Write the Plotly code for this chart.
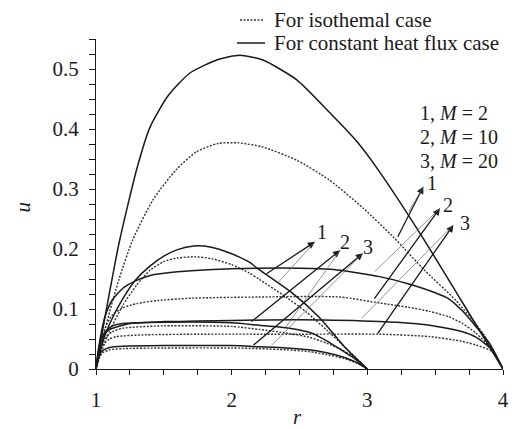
import plotly.graph_objects as go

# ---------------- data ----------------
# Outer radius 4 (r from 1 to 4)
r_a_m2_flux = [1, 1.05, 1.1, 1.17, 1.3, 1.4, 1.53, 1.69, 1.9, 2.06, 2.23, 2.48, 2.72, 2.92, 3.08, 3.4, 3.69, 4]
u_a_m2_flux = [0, 0.066, 0.128, 0.21, 0.333, 0.404, 0.455, 0.493, 0.516, 0.523, 0.515, 0.482, 0.428, 0.38, 0.332, 0.222, 0.115, 0]

r_a_m2_iso = [1, 1.05, 1.1, 1.17, 1.27, 1.42, 1.59, 1.74, 1.9, 2.05, 2.23, 2.48, 2.72, 2.97, 3.2, 3.42, 3.65, 3.85, 4]
u_a_m2_iso = [0, 0.05, 0.095, 0.15, 0.215, 0.282, 0.332, 0.362, 0.376, 0.377, 0.37, 0.348, 0.315, 0.268, 0.218, 0.165, 0.115, 0.06, 0]

r_a_m10_flux = [1, 1.03, 1.07, 1.12, 1.2, 1.29, 1.4, 1.6, 1.8, 2.0, 2.5, 2.75, 3.09, 3.3, 3.5, 3.6, 3.7, 3.8, 3.9, 4]
u_a_m10_flux = [0, 0.05, 0.09, 0.115, 0.135, 0.147, 0.156, 0.162, 0.165, 0.167, 0.168, 0.166, 0.154, 0.142, 0.127, 0.117, 0.097, 0.071, 0.043, 0]

r_a_m10_iso = [1, 1.03, 1.07, 1.12, 1.2, 1.3, 1.45, 1.7, 2.2, 2.8, 3.09, 3.3, 3.46, 3.6, 3.7, 3.8, 3.92, 4]
u_a_m10_iso = [0, 0.04, 0.07, 0.09, 0.102, 0.109, 0.114, 0.118, 0.12, 0.12, 0.11, 0.103, 0.096, 0.087, 0.076, 0.06, 0.032, 0]

r_a_m20_flux = [1, 1.02, 1.05, 1.1, 1.15, 1.25, 1.5, 1.75, 2.0, 2.5, 3.09, 3.46, 3.7, 3.8, 3.92, 4]
u_a_m20_flux = [0, 0.035, 0.055, 0.066, 0.07, 0.076, 0.079, 0.08, 0.081, 0.082, 0.079, 0.073, 0.062, 0.053, 0.032, 0]

r_a_m20_iso = [1, 1.02, 1.05, 1.1, 1.15, 1.37, 1.75, 2.5, 3.09, 3.46, 3.7, 3.8, 3.92, 4]
u_a_m20_iso = [0, 0.025, 0.04, 0.05, 0.054, 0.057, 0.058, 0.058, 0.058, 0.054, 0.046, 0.04, 0.029, 0]

# Outer radius 3 (r from 1 to 3)
r_b_m2_flux = [1, 1.05, 1.1, 1.2, 1.29, 1.4, 1.5, 1.6, 1.72, 1.85, 2.0, 2.13, 2.2, 2.45, 2.65, 2.84, 3]
u_b_m2_flux = [0, 0.045, 0.075, 0.118, 0.148, 0.172, 0.188, 0.199, 0.205, 0.203, 0.192, 0.178, 0.166, 0.126, 0.085, 0.035, 0]

r_b_m2_iso = [1, 1.05, 1.1, 1.2, 1.3, 1.4, 1.5, 1.6, 1.73, 1.85, 2.0, 2.13, 2.2, 2.4, 2.55, 2.7, 2.85, 3]
u_b_m2_iso = [0, 0.035, 0.063, 0.107, 0.14, 0.165, 0.179, 0.185, 0.187, 0.184, 0.174, 0.16, 0.15, 0.12, 0.095, 0.065, 0.033, 0]

r_b_m10_flux = [1, 1.03, 1.07, 1.12, 1.2, 1.5, 2.0, 2.2, 2.35, 2.5, 2.6, 2.7, 2.8, 2.89, 3]
u_b_m10_flux = [0, 0.04, 0.062, 0.072, 0.076, 0.078, 0.077, 0.073, 0.07, 0.065, 0.059, 0.047, 0.033, 0.02, 0]

r_b_m10_iso = [1, 1.03, 1.07, 1.12, 1.2, 1.5, 2.0, 2.2, 2.4, 2.57, 2.7, 2.82, 2.92, 3]
u_b_m10_iso = [0, 0.032, 0.052, 0.062, 0.068, 0.072, 0.071, 0.066, 0.06, 0.053, 0.043, 0.031, 0.017, 0]

r_b_m20_flux = [1, 1.02, 1.05, 1.1, 1.2, 1.5, 2.0, 2.2, 2.4, 2.57, 2.7, 2.82, 2.92, 3]
u_b_m20_flux = [0, 0.022, 0.031, 0.036, 0.038, 0.039, 0.039, 0.037, 0.035, 0.032, 0.027, 0.02, 0.011, 0]

r_b_m20_iso = [1, 1.02, 1.05, 1.1, 1.2, 1.5, 2.0, 2.2, 2.4, 2.57, 2.7, 2.82, 2.92, 3]
u_b_m20_iso = [0, 0.018, 0.027, 0.032, 0.034, 0.035, 0.035, 0.034, 0.032, 0.029, 0.024, 0.018, 0.01, 0]

x_tickvals = [1, 2, 3, 4]
y_tickvals = [0, 0.1, 0.2, 0.3, 0.4, 0.5]
y_ticktext = ["0", "0.1", "0.2", "0.3", "0.4", "0.5"]

legend_iso = "For isothemal case"
legend_flux = "For constant heat flux case"
m_labels = ["1, <i>M</i> = 2", "2, <i>M</i> = 10", "3, <i>M</i> = 20"]

# arrow pointers: (tip r, tip u, thick-from r, u, thin-from r, u, label r, u, label)
arrows_inner = [
    (2.614, 0.212, 2.246, 0.157, 2.334, 0.142, 2.664, 0.229, "1"),
    (2.80, 0.198, 2.135, 0.077, 2.393, 0.068, 2.835, 0.212, "2"),
    (2.968, 0.193, 2.15, 0.038, 2.283, 0.037, 3.007, 0.204, "3"),
]
arrows_outer = [
    (3.413, 0.304, 3.219, 0.218, 3.30, 0.26, 3.474, 0.31, "1"),
    (3.535, 0.268, 3.044, 0.115, 3.044, 0.16, 3.597, 0.273, "2"),
    (3.634, 0.240, 3.069, 0.057, 2.946, 0.082, 3.72, 0.243, "3"),
]

# ---------------- figure ----------------
INK = "#1a1a1a"
FONT = "Liberation Serif"
SOLID = dict(color=INK, width=1.5)
DOTTED = dict(color="#333333", width=1.4, dash="2px,1.5px")

fig = go.Figure()

flux_curves = [(r_a_m2_flux, u_a_m2_flux), (r_a_m10_flux, u_a_m10_flux), (r_a_m20_flux, u_a_m20_flux),
               (r_b_m2_flux, u_b_m2_flux), (r_b_m10_flux, u_b_m10_flux), (r_b_m20_flux, u_b_m20_flux)]
iso_curves = [(r_a_m2_iso, u_a_m2_iso), (r_a_m10_iso, u_a_m10_iso), (r_a_m20_iso, u_a_m20_iso),
              (r_b_m2_iso, u_b_m2_iso), (r_b_m10_iso, u_b_m10_iso), (r_b_m20_iso, u_b_m20_iso)]

for r, u in iso_curves:
    fig.add_trace(go.Scatter(x=r, y=u, mode="lines", line=dict(**DOTTED, shape="spline", smoothing=0.6),
                             name=legend_iso, showlegend=False, hoverinfo="skip"))
for r, u in flux_curves:
    fig.add_trace(go.Scatter(x=r, y=u, mode="lines", line=dict(**SOLID, shape="spline", smoothing=0.6),
                             name=legend_flux, showlegend=False, hoverinfo="skip"))

annotations = []
for group in (arrows_inner, arrows_outer):
    for tr, tu, ar, au, br, bu, lr, lu, lab in group:
        annotations.append(dict(x=tr, y=tu, ax=ar, ay=au, xref="x", yref="y", axref="x", ayref="y",
                                text="", showarrow=True, arrowhead=2, arrowsize=1.1, arrowwidth=1.3,
                                arrowcolor=INK))
        annotations.append(dict(x=tr, y=tu, ax=br, ay=bu, xref="x", yref="y", axref="x", ayref="y",
                                text="", showarrow=True, arrowhead=0, arrowwidth=0.7,
                                arrowcolor="#666666"))
        annotations.append(dict(x=lr, y=lu, xref="x", yref="y", text=lab, showarrow=False,
                                font=dict(family=FONT, size=20, color=INK)))

for k, lab in enumerate(m_labels):
    annotations.append(dict(x=0.791, y=0.7758 - 0.0727 * k, xref="paper", yref="paper", xanchor="left",
                            yanchor="middle", text=lab, showarrow=False,
                            font=dict(family=FONT, size=20, color=INK)))

# legend (drawn by hand to match the reference placement)
legend_rows = [(legend_iso, DOTTED, 0.3538, 0.4103, 1.0576), (legend_flux, SOLID, 0.3464, 0.4152, 0.9879)]
shapes = []
for text, style, x0, x1, yy in legend_rows:
    shapes.append(dict(type="line", xref="paper", yref="paper", x0=x0, x1=x1, y0=yy, y1=yy,
                       line=dict(color=style["color"], width=style["width"], dash=style.get("dash", "solid"))))
    annotations.append(dict(x=0.4324, y=yy, xref="paper", yref="paper", xanchor="left", yanchor="middle",
                            text=text, showarrow=False, font=dict(family=FONT, size=21, color=INK)))

annotations.append(dict(x=-0.179, y=0.49, xref="paper", yref="paper", text="<i>u</i>", textangle=-90,
                        xanchor="center", yanchor="middle",
                        showarrow=False, font=dict(family=FONT, size=21, color=INK)))
annotations.append(dict(x=0.496, y=-0.146, xref="paper", yref="paper", text="<i>r</i>",
                        xanchor="center", yanchor="middle",
                        showarrow=False, font=dict(family=FONT, size=21, color=INK)))

fig.update_layout(
    width=515, height=429,
    margin=dict(l=96, r=12, t=39, b=60, autoexpand=False),
    paper_bgcolor="white", plot_bgcolor="white",
    font=dict(family=FONT, size=20, color=INK),
    annotations=annotations,
    shapes=shapes,
    showlegend=False,
)
fig.update_xaxes(range=[1, 4], tickvals=x_tickvals, showline=True, linecolor=INK, linewidth=1.3,
                 ticks="outside", ticklen=5, tickwidth=1.2, tickcolor=INK, showgrid=False, zeroline=False,
                 minor=dict(dtick=0.25, tick0=1, ticks="outside", ticklen=5, tickwidth=1.2, tickcolor=INK,
                            showgrid=False),
                 tickfont=dict(family=FONT, size=21, color=INK), ticklabelstandoff=7)
fig.update_yaxes(range=[0, 0.5501], tickvals=y_tickvals, ticktext=y_ticktext, showline=True, linecolor=INK,
                 linewidth=1.3, ticks="outside", ticklen=6, tickwidth=1.2, tickcolor=INK, showgrid=False,
                 zeroline=False,
                 minor=dict(dtick=0.025, tick0=0, ticks="outside", ticklen=6, tickwidth=1.2, tickcolor=INK,
                            showgrid=False),
                 tickfont=dict(family=FONT, size=21, color=INK), ticklabelstandoff=6)

fig.write_html("out.html")
